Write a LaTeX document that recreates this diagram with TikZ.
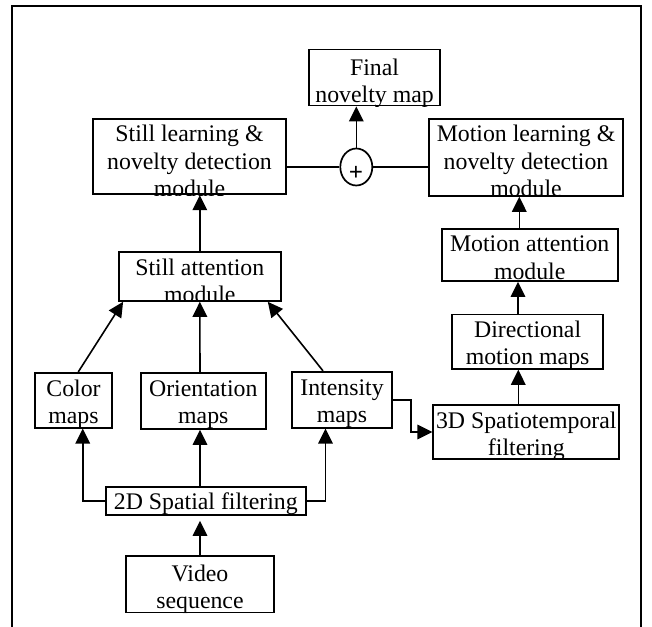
\documentclass[tikz,border=0pt]{standalone}
\usepackage{fontspec}
\setmainfont{Liberation Serif}
\usetikzlibrary{arrows.meta,shapes.geometric}
\tikzset{
  box/.style={draw, rectangle, line width=1.7pt, inner sep=0pt},
  txt/.style={inner sep=0pt, anchor=base, font=\fontsize{23.8}{27.3}\selectfont},
  con/.style={line width=1.6pt},
  arr/.style={con, -{Triangle[length=15pt,width=14.5pt]}},
  frame/.style={line width=2.3pt},
}
\begin{document}
\begin{tikzpicture}[x=1pt,y=-1pt]
\useasboundingbox (0,0) rectangle (652,626);
% outer frame (bottom edge outside the picture)
\draw[frame] (11.7,640) -- (11.7,6) -- (641,6) -- (641,640);

% ---------- boxes ----------
\node[box, minimum width=130.7pt, minimum height=56pt]   (fin) at (374.6,77.5) {};
\node[box, minimum width=193pt,   minimum height=75.3pt] (sl)  at (189.5,156.6) {};
\node[box, minimum width=194.6pt, minimum height=76.7pt] (ml)  at (526,157.6) {};
\node[box, minimum width=161.7pt, minimum height=48.7pt] (sa)  at (199.8,276.6) {};
\node[box, minimum width=176pt,   minimum height=52.3pt] (ma)  at (529.7,254.8) {};
\node[box, minimum width=151.3pt, minimum height=54.5pt] (dir) at (527.6,341.7) {};
\node[box, minimum width=186pt,   minimum height=54pt]   (sp3) at (526.3,432) {};
\node[box, minimum width=77.6pt,  minimum height=55pt]   (col) at (73.5,400.2) {};
\node[box, minimum width=125.3pt, minimum height=56pt]   (ori) at (203.3,401) {};
\node[box, minimum width=100.6pt, minimum height=56pt]   (int) at (342,399.7) {};
\node[box, minimum width=199.7pt, minimum height=28.3pt] (sp2) at (205.8,500.8) {};
\node[box, minimum width=148pt,   minimum height=56.3pt] (vid) at (200,584.2) {};
\node[draw, ellipse, line width=1.7pt, inner sep=0pt, minimum width=32pt, minimum height=37pt] (plus) at (356.3,167) {};
\node[inner sep=0pt, font=\bfseries\fontsize{25}{25}\selectfont] (plustxt) at (356,173.3) {+};

% ---------- texts (clipped to their boxes) ----------
\begin{scope}\clip (fin.south west) rectangle (fin.north east);
\node[txt] (fin1) at (374.6,75) {Final};
\node[txt] (fin2) at (374.6,102.3) {novelty map};
\end{scope}
\begin{scope}\clip (sl.south west) rectangle (sl.north east);
\node[txt] (sl1) at (189.5,141.7) {Still learning \&};
\node[txt] (sl2) at (189.5,169) {novelty detection};
\node[txt] (sl3) at (189.5,196.3) {module};
\end{scope}
\begin{scope}\clip (ml.south west) rectangle (ml.north east);
\node[txt] (ml1) at (526,141.7) {Motion learning \&};
\node[txt] (ml2) at (526,169) {novelty detection};
\node[txt] (ml3) at (526,196.3) {module};
\end{scope}
\begin{scope}\clip (sa.south west) rectangle (sa.north east);
\node[txt] (sa1) at (199.8,275) {Still attention};
\node[txt] (sa2) at (199.8,302.3) {module};
\end{scope}
\begin{scope}\clip (ma.south west) rectangle (ma.north east);
\node[txt] (ma1) at (529.7,251.7) {Motion attention};
\node[txt] (ma2) at (529.7,279) {module};
\end{scope}
\begin{scope}\clip (dir.south west) rectangle (dir.north east);
\node[txt] (dir1) at (527.6,337) {Directional};
\node[txt] (dir2) at (527.6,364.3) {motion maps};
\end{scope}
\begin{scope}\clip (sp3.south west) rectangle (sp3.north east);
\node[txt] (sp31) at (526.3,428) {3D Spatiotemporal};
\node[txt] (sp32) at (526.3,455.3) {filtering};
\end{scope}
\begin{scope}\clip (col.south west) rectangle (col.north east);
\node[txt] (col1) at (73.5,396.3) {Color};
\node[txt] (col2) at (73.5,423.6) {maps};
\end{scope}
\begin{scope}\clip (ori.south west) rectangle (ori.north east);
\node[txt] (ori1) at (203.3,396.3) {Orientation};
\node[txt] (ori2) at (203.3,423.6) {maps};
\end{scope}
\begin{scope}\clip (int.south west) rectangle (int.north east);
\node[txt] (int1) at (342,395) {Intensity};
\node[txt] (int2) at (342,422.3) {maps};
\end{scope}
\begin{scope}\clip (sp2.south west) rectangle (sp2.north east);
\node[txt] (sp21) at (205.8,509.7) {2D Spatial filtering};
\end{scope}
\begin{scope}\clip (vid.south west) rectangle (vid.north east);
\node[txt] (vid1) at (200,581.3) {Video};
\node[txt] (vid2) at (200,608.6) {sequence};
\end{scope}

% ---------- connectors ----------
\draw[arr, shorten >=5pt] (vid.north) -- (vid.north |- sp2.south);
\draw[arr] (sp2.west) -| ([xshift=9.2pt]col.south);
\draw[arr] ([xshift=-3.3pt]ori.south |- sp2.north) -- ([xshift=-3.3pt]ori.south);
\draw[arr] (sp2.east) -| ([xshift=-16.5pt]int.south);
\draw[arr] (int.east) -- ++(17.7,0) |- (sp3.west);
\draw[arr] ([xshift=-8pt]sp3.north) -- ([xshift=-8pt]sp3.north |- dir.south);
\draw[arr] ([xshift=-9.6pt]dir.north) -- ([xshift=-9.6pt]dir.north |- ma.south);
\draw[arr] ([xshift=-10.4pt]ma.north) -- ([xshift=-10.4pt]ma.north |- ml.south);
\draw[arr] ([xshift=4.8pt]col.north) -- ([xshift=5pt]sa.south west);
\draw[arr] ([xshift=-3.3pt]ori.north) -- (sa.south);
\draw[arr] ([xshift=-19pt]int.north) -- ([xshift=-13.7pt]sa.south east);
\draw[arr] (sa.north) -- (sa.north |- sl.south);
\draw[con] (plus.west -| sl.east) -- (plus.west);
\draw[con] (plus.east) -- (plus.east -| ml.west);
\draw[arr] (plus.north) -- (plus.north |- fin.south);
\end{tikzpicture}
\end{document}
